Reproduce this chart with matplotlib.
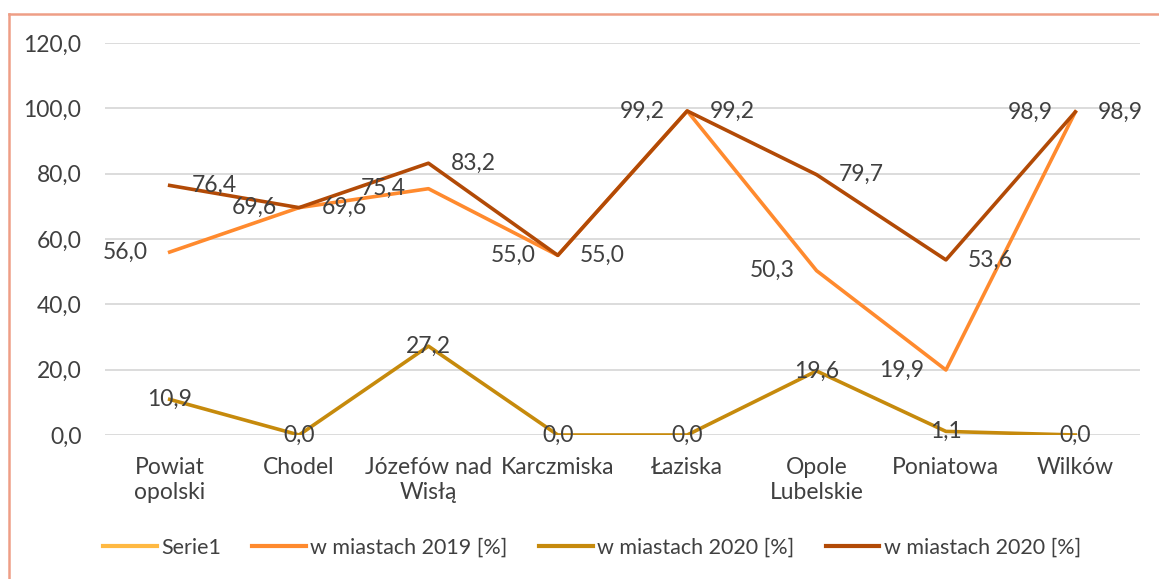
import numpy as np
import matplotlib
matplotlib.use("Agg")
import matplotlib.pyplot as plt
from matplotlib.lines import Line2D

plt.rcParams['font.family'] = ['Lato', 'DejaVu Sans']

categories = ["Powiat\nopolski", "Chodel", "Józefów nad\nWisłą", "Karczmiska",
              "Łaziska", "Opole\nLubelskie", "Poniatowa", "Wilków"]
miasta_2019 = [56.0, 69.6, 75.4, 55.0, 99.2, 50.3, 19.9, 98.9]
miasta_2020_a = [10.9, 0.0, 27.2, 0.0, 0.0, 19.6, 1.1, 0.0]
miasta_2020_b = [76.4, 69.6, 83.2, 55.0, 99.2, 79.7, 53.6, 98.9]
legend_names = ["Serie1", "w miastach 2019 [%]", "w miastach 2020 [%]", "w miastach 2020 [%]"]

c_serie1 = '#FFB942'
c_2019 = '#FF8A2E'
c_2020a = '#C68A0C'
c_2020b = '#B24A06'
txt = '#404040'

fig = plt.figure(figsize=(11.59, 5.79), dpi=100)
ax = fig.add_axes([105 / 1159, 1 - 435 / 579, 1035 / 1159, 392 / 579])

x = np.arange(len(categories))
ax.plot(x, miasta_2019, color=c_2019, lw=2.6, zorder=3)
ax.plot(x, miasta_2020_a, color=c_2020a, lw=2.6, zorder=3)
ax.plot(x, miasta_2020_b, color=c_2020b, lw=2.6, zorder=4)

def fmt(v):
    return f"{v:.1f}".replace('.', ',')

fs = 16.5
for xi, v in zip(x, miasta_2019):
    ax.annotate(fmt(v), (xi, v), xytext=(-16, 0), textcoords='offset points',
                ha='right', va='center', fontsize=fs, color=txt, zorder=5)
for xi, v in zip(x, miasta_2020_b):
    ax.annotate(fmt(v), (xi, v), xytext=(16, 0), textcoords='offset points',
                ha='left', va='center', fontsize=fs, color=txt, zorder=5)
for xi, v in zip(x, miasta_2020_a):
    ax.annotate(fmt(v), (xi, v), xytext=(0, 0), textcoords='offset points',
                ha='center', va='center', fontsize=fs, color=txt, zorder=5)

ax.set_xlim(-0.5, len(categories) - 0.5)
ax.set_ylim(0, 120)
ax.set_yticks(np.arange(0, 121, 20))
ax.set_yticklabels([fmt(v) for v in np.arange(0, 121, 20)], fontsize=fs, color=txt)
ax.set_xticks(x)
ax.set_xticklabels(categories, fontsize=fs, color=txt, linespacing=1.2)
ax.tick_params(axis='both', length=0)
ax.tick_params(axis='y', pad=17)
ax.tick_params(axis='x', pad=16)
ax.grid(axis='y', color='#D9D9D9', lw=1.3)
ax.set_axisbelow(True)
for s in ax.spines.values():
    s.set_visible(False)

handles = [Line2D([], [], color=c, lw=3) for c in (c_serie1, c_2019, c_2020a, c_2020b)]
fig.legend(handles, legend_names, loc='center', bbox_to_anchor=(592 / 1159, 1 - 548 / 579),
           ncol=4, frameon=False, fontsize=15.5, labelcolor=txt, handlelength=2.5,
           handletextpad=0.2, columnspacing=1.45)

# chart border (top and left visible)
fig.add_artist(Line2D([9 / 1159, 9 / 1159], [0, 1 - 14 / 579], transform=fig.transFigure,
                      color='#EE9E86', lw=1.8))
fig.add_artist(Line2D([9 / 1159, 1], [1 - 14 / 579, 1 - 14 / 579], transform=fig.transFigure,
                      color='#EE9E86', lw=1.8))

fig.savefig("out.png", dpi=100)
